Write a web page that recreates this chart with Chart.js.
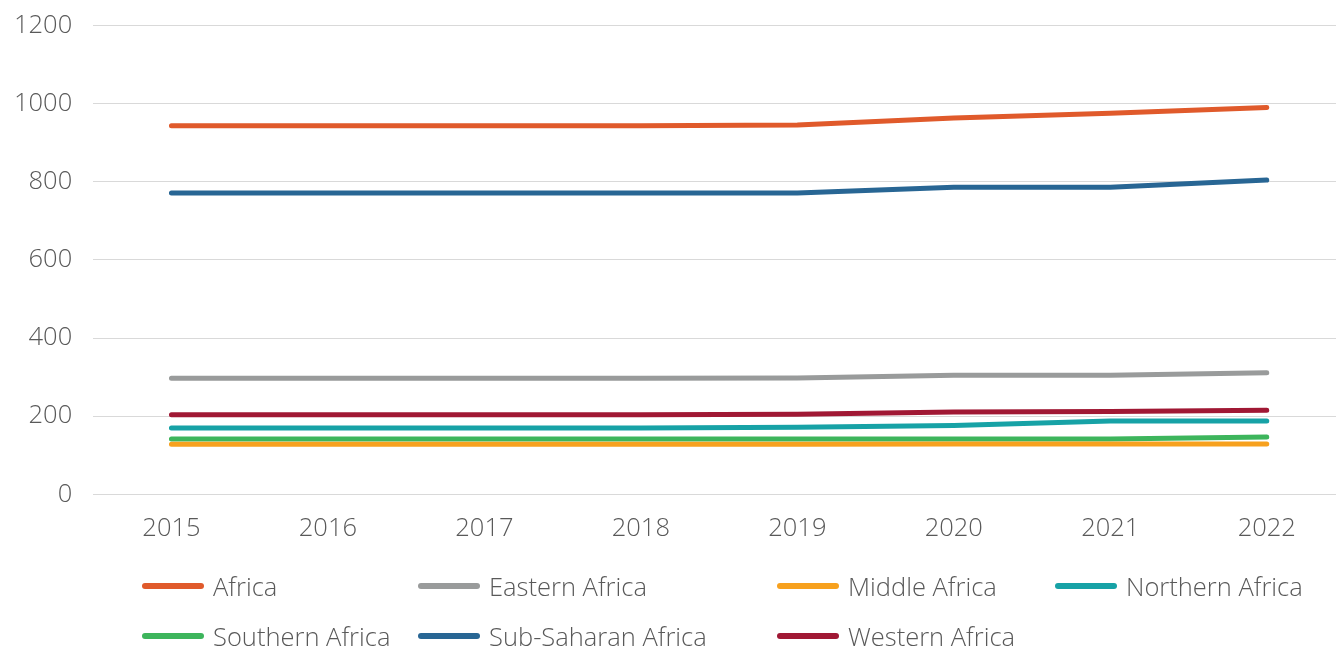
<!DOCTYPE html>
<html>
<head>
<meta charset="utf-8">
<script src="https://cdn.jsdelivr.net/npm/chart.js@4.4.1/dist/chart.umd.min.js"></script>
<style>
  html, body { margin: 0; padding: 0; background: #fff; overflow: hidden; }
  #wrap { position: relative; width: 1345px; height: 651px; overflow: hidden; }
  #cbox { position: absolute; left: 0; top: -11px; width: 1345px; height: 662px; }
  #legend {
    position: absolute; left: 142px; top: 566px;
    display: grid; grid-template-columns: 276px 359px 278px auto;
    row-gap: 10px;
    font-family: "Open Sans", Lato, sans-serif; font-weight: 300; font-size: 25.5px; color: #595959;
  }
  .item { display: flex; align-items: center; height: 40px; white-space: nowrap; }
  .swatch { width: 62px; height: 6px; border-radius: 3px; margin-right: 9px; }
</style>
</head>
<body>
<div id="wrap">
  <div id="cbox"><canvas id="c"></canvas></div>
  <div id="legend"></div>
</div>
<script>
const years = ['2015', '2016', '2017', '2018', '2019', '2020', '2021', '2022'];
const seriesNames = ['Africa', 'Eastern Africa', 'Middle Africa', 'Northern Africa', 'Southern Africa', 'Sub-Saharan Africa', 'Western Africa'];
const africa      = [943, 943, 943, 943, 945, 963, 975, 990];
const eastern     = [297, 297, 297, 297, 298, 305, 305, 311];
const middle      = [128, 128, 128, 128, 128, 129, 129, 129];
const northern    = [170, 170, 170, 170, 172, 176, 188, 188];
const southern    = [142, 142, 142, 142, 142, 142, 142, 147];
const subSaharan  = [771, 771, 771, 771, 771, 786, 786, 804];
const western     = [204, 204, 204, 204, 205, 211, 212, 215];
const yTicks = [0, 200, 400, 600, 800, 1000, 1200];

const values = [africa, eastern, middle, northern, southern, subSaharan, western];
const colors = ['#E05A2B', '#999B9B', '#F7A11E', '#17A2A6', '#3DB55C', '#286694', '#A01834'];

const datasets = seriesNames.map((n, i) => ({
  label: n,
  data: values[i],
  borderColor: colors[i],
  backgroundColor: colors[i],
  borderWidth: 5,
  borderCapStyle: 'round',
  borderJoinStyle: 'round',
  pointRadius: 0,
  tension: 0,
  fill: false
}));

const font = { family: '"Open Sans", Lato, sans-serif', size: 25.5, weight: '300' };

new Chart(document.getElementById('c'), {
  type: 'line',
  data: { labels: years, datasets },
  options: {
    responsive: true,
    maintainAspectRatio: false,
    animation: false,
    layout: { padding: { left: -7, right: 0, top: 0, bottom: 88 } },
    plugins: { legend: { display: false }, tooltip: { enabled: false } },
    scales: {
      x: {
        offset: true,
        grid: { display: false, drawTicks: false },
        border: { display: false },
        ticks: { color: '#595959', font, padding: 19, maxRotation: 0 }
      },
      y: {
        min: 0, max: 1200,
        afterBuildTicks: (s) => { s.ticks = yTicks.map(v => ({ value: v })); },
        grid: { color: '#d9d9d9', lineWidth: 1, drawTicks: false },
        border: { display: false },
        ticks: { color: '#595959', font, padding: 21, callback: (v) => String(v) }
      }
    }
  }
});

const lg = document.getElementById('legend');
seriesNames.forEach((n, i) => {
  const d = document.createElement('div');
  d.className = 'item';
  const s = document.createElement('span');
  s.className = 'swatch';
  s.style.background = colors[i];
  d.appendChild(s);
  d.appendChild(document.createTextNode(n));
  lg.appendChild(d);
});
</script>
</body>
</html>
